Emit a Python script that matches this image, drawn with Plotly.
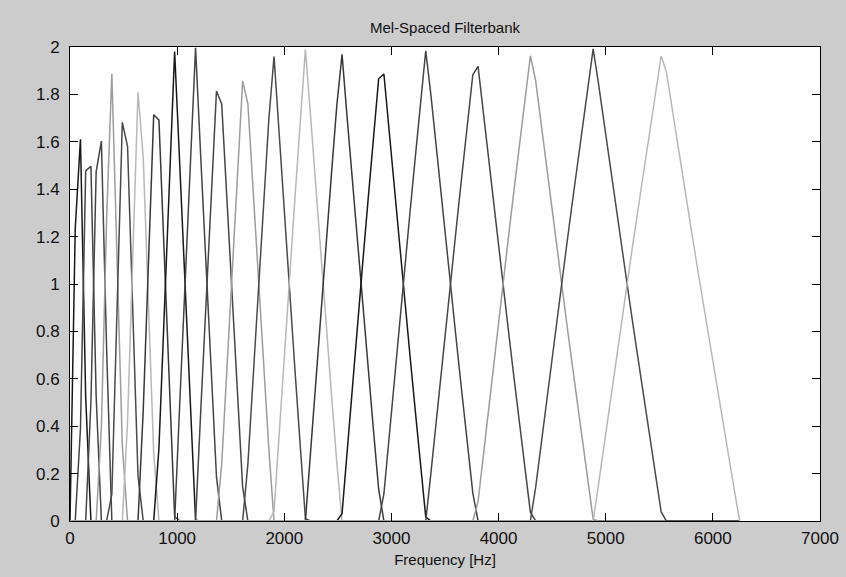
import plotly.graph_objects as go

# FFT bin grid: 129 bins from 0 to 6250 Hz
N_BINS = 129
BIN_HZ = 6250 / 128

# Each filter: first non-zero bin, then its gains on consecutive bins (zero elsewhere)
F01_START, F01_GAIN = 1, [1.234, 1.611, 0.523]
F02_START, F02_GAIN = 2, [0.389, 1.477, 1.497, 0.526]
F03_START, F03_GAIN = 4, [0.503, 1.474, 1.603, 0.725]
F04_START, F04_GAIN = 6, [0.397, 1.275, 1.887, 1.085, 0.318]
F05_START, F05_GAIN = 8, [0.113, 0.915, 1.682, 1.581, 0.873, 0.191]
F06_START, F06_GAIN = 11, [0.419, 1.127, 1.809, 1.533, 0.899, 0.286]
F07_START, F07_GAIN = 14, [0.467, 1.101, 1.714, 1.692, 1.117, 0.560, 0.019]
F08_START, F08_GAIN = 17, [0.308, 0.883, 1.440, 1.981, 1.494, 0.984, 0.487, 0.003]
F09_START, F09_GAIN = 21, [0.506, 1.016, 1.513, 1.997, 1.532, 1.073, 0.625, 0.186]
F10_START, F10_GAIN = 25, [0.468, 0.927, 1.375, 1.814, 1.759, 1.342, 0.934, 0.535, 0.144]
F11_START, F11_GAIN = 29, [0.241, 0.658, 1.066, 1.465, 1.856, 1.761, 1.387, 1.020, 0.660, 0.307]
F12_START, F12_GAIN = 34, [0.239, 0.613, 0.980, 1.340, 1.693, 1.960, 1.620, 1.287, 0.959,
                           0.637, 0.321, 0.010]
F13_START, F13_GAIN = 39, [0.040, 0.380, 0.713, 1.041, 1.363, 1.679, 1.990, 1.704, 1.403,
                           1.107, 0.816, 0.529, 0.247]
F14_START, F14_GAIN = 46, [0.296, 0.597, 0.893, 1.184, 1.471, 1.753, 1.969, 1.695, 1.426,
                           1.160, 0.898, 0.640, 0.385, 0.134]
F15_START, F15_GAIN = 52, [0.031, 0.305, 0.574, 0.840, 1.102, 1.360, 1.615, 1.866, 1.886,
                           1.641, 1.400, 1.162, 0.927, 0.695, 0.466, 0.239, 0.016]
F16_START, F16_GAIN = 60, [0.114, 0.359, 0.600, 0.838, 1.073, 1.305, 1.534, 1.761, 1.984,
                           1.795, 1.577, 1.361, 1.148, 0.937, 0.729, 0.523, 0.319, 0.118]
F17_START, F17_GAIN = 69, [0.205, 0.424, 0.639, 0.852, 1.063, 1.271, 1.477, 1.681, 1.883,
                           1.918, 1.721, 1.526, 1.333, 1.142, 0.953, 0.766, 0.581, 0.398,
                           0.217, 0.037]
F18_START, F18_GAIN = 78, [0.082, 0.279, 0.474, 0.667, 0.858, 1.047, 1.234, 1.419, 1.602,
                           1.784, 1.963, 1.859, 1.683, 1.508, 1.335, 1.164, 0.994, 0.826,
                           0.660, 0.495, 0.331, 0.169, 0.008]
F19_START, F19_GAIN = 89, [0.141, 0.317, 0.492, 0.665, 0.836, 1.006, 1.174, 1.341, 1.506,
                           1.669, 1.831, 1.992, 1.849, 1.691, 1.534, 1.379, 1.225, 1.072,
                           0.921, 0.771, 0.622, 0.474, 0.327, 0.182, 0.038]
F20_START, F20_GAIN = 101, [0.151, 0.309, 0.466, 0.621, 0.775, 0.928, 1.079, 1.230, 1.378,
                            1.526, 1.673, 1.818, 1.962, 1.895, 1.752, 1.612, 1.472, 1.333,
                            1.195, 1.058, 0.923, 0.788, 0.654, 0.522, 0.390, 0.259, 0.129]

FILTERS = [
    (F01_START, F01_GAIN), (F02_START, F02_GAIN), (F03_START, F03_GAIN), (F04_START, F04_GAIN),
    (F05_START, F05_GAIN), (F06_START, F06_GAIN), (F07_START, F07_GAIN), (F08_START, F08_GAIN),
    (F09_START, F09_GAIN), (F10_START, F10_GAIN), (F11_START, F11_GAIN), (F12_START, F12_GAIN),
    (F13_START, F13_GAIN), (F14_START, F14_GAIN), (F15_START, F15_GAIN), (F16_START, F16_GAIN),
    (F17_START, F17_GAIN), (F18_START, F18_GAIN), (F19_START, F19_GAIN), (F20_START, F20_GAIN),
]

# grayscale version of MATLAB's classic colour order (b, g, r, c, m, y, k)
LINE_COLORS = ["#181818", "#444444", "#464646", "#9c9c9c", "#4a4a4a", "#b8b8b8", "#383838"]

X_TICKS = [0, 1000, 2000, 3000, 4000, 5000, 6000, 7000]
Y_TICKS = [0, 0.2, 0.4, 0.6, 0.8, 1, 1.2, 1.4, 1.6, 1.8, 2]

freqs = [i * BIN_HZ for i in range(N_BINS)]

fig = go.Figure()
for idx, (start, gains) in enumerate(FILTERS):
    y = [0.0] * N_BINS
    for off, g in enumerate(gains):
        y[start + off] = g
    fig.add_trace(go.Scatter(
        x=freqs, y=y, mode="lines",
        line=dict(color=LINE_COLORS[idx % len(LINE_COLORS)], width=1.5),
        showlegend=False, hoverinfo="skip",
    ))

FONT = "Liberation Sans, Arial, sans-serif"
W, H = 846, 577
L, R, T, B = 70, 26, 47, 56

axis_common = dict(
    showline=True, linecolor="#000000", linewidth=1, mirror="ticks",
    ticks="inside", ticklen=8, tickcolor="#000000", tickwidth=1,
    showgrid=False, zeroline=False, automargin=False,
    tickfont=dict(family=FONT, size=17, color="#111111"),
)

fig.update_layout(
    width=W, height=H, autosize=False,
    margin=dict(l=L, r=R, t=T, b=B, pad=0, autoexpand=False),
    paper_bgcolor="#cccccc",
    plot_bgcolor="#ffffff",
    title=dict(text="Mel-Spaced Filterbank", x=0.5, xref="paper", xanchor="center",
               y=1 - 28 / H, yanchor="middle",
               font=dict(family=FONT, size=15, color="#111111")),
    xaxis=dict(range=[0, 7000], tickvals=X_TICKS, ticklabelstandoff=2,
               title=dict(text="Frequency [Hz]", standoff=7,
                          font=dict(family=FONT, size=15, color="#111111")),
               **axis_common),
    yaxis=dict(range=[0, 2], tickvals=Y_TICKS, ticklabelstandoff=6, **axis_common),
)

fig.write_html("out.html")
